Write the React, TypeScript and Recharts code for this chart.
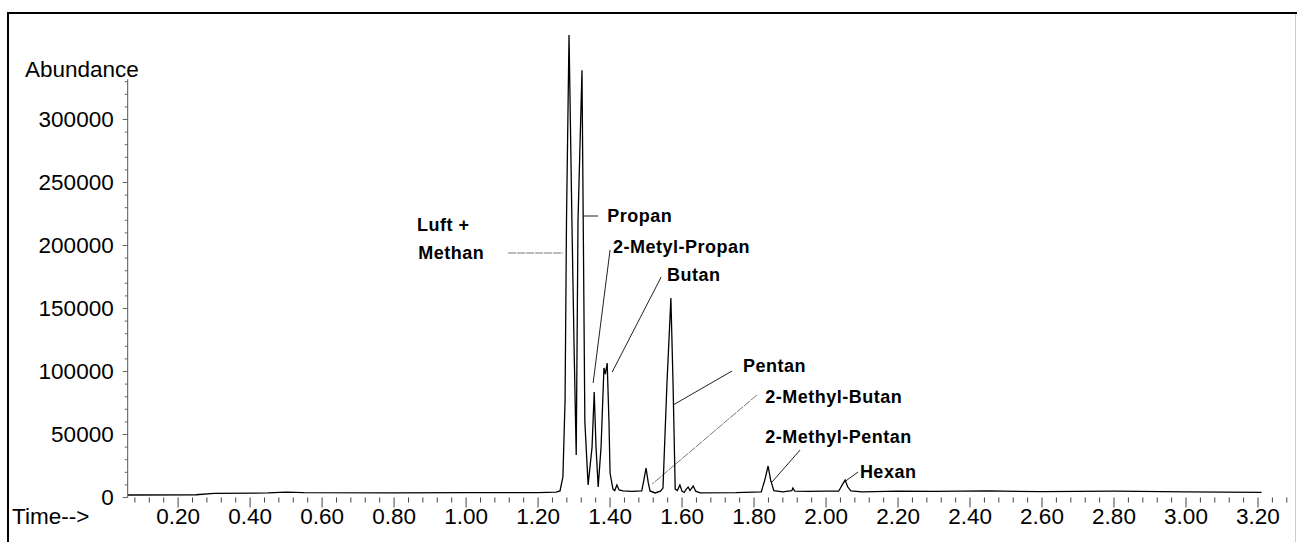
import {
  LineChart,
  Line,
  XAxis,
  YAxis,
  ReferenceLine,
  ReferenceDot,
} from "recharts";

// retention time (min) and abundance
const time = [
  0.06, 0.25, 0.3, 0.45, 0.5, 0.55, 0.8, 1.0, 1.2, 1.25, 1.261, 1.269, 1.275,
  1.279, 1.286, 1.294, 1.3, 1.306, 1.311, 1.322, 1.326, 1.33, 1.339, 1.35,
  1.356, 1.361, 1.367, 1.375, 1.383, 1.387, 1.392, 1.397, 1.4, 1.408, 1.413,
  1.419, 1.425, 1.436, 1.46, 1.488, 1.494, 1.5, 1.506, 1.511, 1.525, 1.54,
  1.547, 1.558, 1.569, 1.575, 1.581, 1.587, 1.594, 1.6, 1.606, 1.611, 1.617,
  1.622, 1.631, 1.638, 1.65, 1.75, 1.82, 1.83, 1.839, 1.846, 1.855, 1.88,
  1.905, 1.908, 1.913, 1.95, 2.0, 2.035, 2.045, 2.053, 2.06, 2.069, 2.1, 2.2,
  2.3, 2.45, 2.6, 2.8, 3.0, 3.21,
];
const abundance = [
  2000, 2200, 3200, 3600, 4200, 3800, 3600, 3800, 3900, 4200, 5200, 16300,
  77000, 220000, 367000, 220000, 120000, 33700, 220000, 339000, 200000, 60000,
  9900, 40000, 83700, 40000, 8300, 40000, 102800, 98000, 106700, 60000, 19400,
  6700, 5500, 9900, 6000, 5200, 4800, 5200, 14000, 23400, 12000, 5200, 3600,
  5000, 7500, 90000, 158300, 90000, 6700, 5500, 9900, 5000, 4000, 6500, 8300,
  5500, 9100, 5000, 3600, 3800, 4500, 14000, 25000, 14000, 5500, 4500, 5500,
  7500, 5000, 4800, 5000, 5000, 10000, 13900, 8500, 5200, 4500, 5000, 4800,
  5200, 4600, 5000, 4400, 4000,
];

const xMajorTicks = [
  0.2, 0.4, 0.6, 0.8, 1.0, 1.2, 1.4, 1.6, 1.8, 2.0, 2.2, 2.4, 2.6, 2.8, 3.0, 3.2,
];
const yMajorTicks = [0, 50000, 100000, 150000, 200000, 250000, 300000];

// peak annotations: label text, anchor (time, abundance), leader line ends
const annText = [
  "Luft +",
  "Methan",
  "Propan",
  "2-Metyl-Propan",
  "Butan",
  "Pentan",
  "2-Methyl-Butan",
  "2-Methyl-Pentan",
  "Hexan",
];
const annT = [0.864, 0.867, 1.392, 1.408, 1.558, 1.769, 1.831, 1.831, 2.094];
const annV = [216270, 194050, 223410, 198810, 176590, 104360, 79760, 48020, 20240];
const leaderFrom = [
  null,
  [1.117, 194050],
  [1.325, 223410],
  [1.4, 196430],
  [1.542, 175000],
  [1.739, 100400],
  [1.808, 81350],
  [1.928, 37700],
  [2.089, 20240],
];
const leaderTo = [
  null,
  [1.269, 194050],
  [1.367, 223410],
  [1.353, 90870],
  [1.406, 99600],
  [1.575, 73410],
  [1.517, 10710],
  [1.85, 12300],
  [2.047, 11510],
];

const data = time.map((t, i) => ({ t, a: abundance[i] }));

const xTicks: number[] = [];
for (let i = 2; i <= 82; i++) xTicks.push(Math.round(i * 4) / 100);
const yTicks: number[] = [];
for (let i = 0; i <= 33; i++) yTicks.push(i * 10000);

const FONT = "'Liberation Sans', Arial, Helvetica, sans-serif";

const XTick = (props: any) => {
  const { x, y, payload } = props;
  const v = payload.value;
  const major = xMajorTicks.some((m) => Math.abs(m - v) < 1e-6);
  return (
    <g>
      <line x1={x} x2={x} y1={y} y2={y + (major ? 10 : 5)} stroke="#444" strokeWidth={1} />
      {major && (
        <text
          x={x}
          y={y + 19}
          textAnchor="middle"
          dominantBaseline="central"
          fontSize={22.5}
          fontFamily={FONT}
          fill="#000"
        >
          {v.toFixed(2)}
        </text>
      )}
    </g>
  );
};

const YTick = (props: any) => {
  const { x, y, payload } = props;
  const v = payload.value;
  const major = yMajorTicks.includes(v);
  return (
    <g>
      <line x1={x - (major ? 5 : 3)} x2={x} y1={y} y2={y} stroke="#666" strokeWidth={1} />
      {major && (
        <text
          x={x - 14}
          y={y}
          textAnchor="end"
          dominantBaseline="central"
          fontSize={22.5}
          fontFamily={FONT}
          fill="#000"
        >
          {v}
        </text>
      )}
    </g>
  );
};

const App = () => {
  return (
    <div style={{ position: "absolute", left: 0, top: 0, width: 1297, height: 542, background: "#fff" }}>
      <LineChart
        width={1297}
        height={542}
        data={data}
        margin={{ top: 18.7, right: 6.6, left: 0, bottom: 0 }}
      >
        <XAxis
          dataKey="t"
          type="number"
          domain={[0.06, 3.29]}
          allowDataOverflow
          ticks={xTicks}
          interval={0}
          height={44.5}
          axisLine={false}
          tickLine={false}
          tickSize={0}
          tickMargin={0}
          tick={<XTick />}
        />
        <YAxis
          type="number"
          domain={[0, 380000]}
          allowDataOverflow
          ticks={yTicks}
          interval={0}
          width={127.7}
          axisLine={false}
          tickLine={false}
          tickSize={0}
          tickMargin={0}
          tick={<YTick />}
        />
        <ReferenceLine
          segment={[
            { x: 0.06, y: 0 },
            { x: 0.06, y: 332000 },
          ]}
          stroke="#555"
          strokeWidth={1}
          ifOverflow="visible"
        />
        {annText.map((_, i) =>
          leaderFrom[i] ? (
            <ReferenceLine
              key={"l" + i}
              segment={[
                { x: leaderFrom[i]![0], y: leaderFrom[i]![1] },
                { x: leaderTo[i]![0], y: leaderTo[i]![1] },
              ]}
              stroke={i === 1 || i === 6 ? "#777" : "#222"}
              strokeWidth={1}
              strokeDasharray={i === 1 || i === 6 ? "8 1" : undefined}
              ifOverflow="visible"
            />
          ) : null
        )}
        <Line
          type="linear"
          dataKey="a"
          stroke="#000"
          strokeWidth={1.3}
          dot={false}
          activeDot={false}
          isAnimationActive={false}
        />
        {annText.map((txt, i) => (
          <ReferenceDot
            key={"a" + i}
            x={annT[i]}
            y={annV[i]}
            r={0}
            ifOverflow="visible"
            shape={(p: any) => (
              <text
                x={p.cx}
                y={p.cy}
                dominantBaseline="central"
                fontSize={18}
                fontWeight="bold"
                letterSpacing={0.5}
                fontFamily={FONT}
                fill="#000"
              >
                {txt}
              </text>
            )}
          />
        ))}
      </LineChart>
      <div
        style={{
          position: "absolute",
          left: 25,
          top: 57,
          fontFamily: FONT,
          fontSize: 22.5,
          lineHeight: "26px",
          color: "#000",
        }}
      >
        Abundance
      </div>
      <div
        style={{
          position: "absolute",
          left: 12,
          top: 504,
          fontFamily: FONT,
          fontSize: 22.5,
          lineHeight: "26px",
          color: "#000",
        }}
      >
        Time--&gt;
      </div>
      {/* scanned frame */}
      <div style={{ position: "absolute", left: 7, top: 12, width: 1290, height: 2, background: "#000" }} />
      <div style={{ position: "absolute", left: 7, top: 12, width: 2, height: 530, background: "#000" }} />
      <div style={{ position: "absolute", left: 1295, top: 14, width: 1, height: 528, background: "#ccc" }} />
    </div>
  );
};

export default App;
